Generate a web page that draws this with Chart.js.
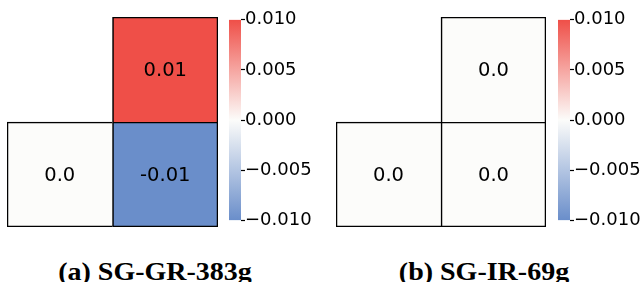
<!DOCTYPE html>
<html>
<head>
<meta charset="utf-8">
<script src="https://cdn.jsdelivr.net/npm/chart.js@4/dist/chart.umd.min.js"></script>
<style>
  body { margin: 0; background: #fff; }
  #wrap { position: relative; width: 642px; height: 282px; overflow: hidden; background: #fff; }
  #wrap div.box { position: absolute; }
  .cap { position: absolute; font-family: "Liberation Serif", serif; font-weight: bold; font-size: 25px;
         line-height: 25px; white-space: nowrap; transform: translateX(-50%) scaleX(1.12); }
</style>
</head>
<body>
<div id="wrap">
  <div class="box" style="left:7px;top:17px;width:211px;height:210px"><canvas id="heatA"></canvas></div>
  <div class="box" style="left:229px;top:9px;width:90px;height:222px"><canvas id="barA"></canvas></div>
  <div class="box" style="left:336px;top:17px;width:210px;height:210px"><canvas id="heatB"></canvas></div>
  <div class="box" style="left:558px;top:9px;width:84px;height:222px"><canvas id="barB"></canvas></div>
  <div class="cap" style="left:155px;top:259px">(a) SG-GR-383g</div>
  <div class="cap" style="left:484px;top:259px">(b) SG-IR-69g</div>
</div>
<script>
// cell values, top row then bottom row (left column, right column)
const colsLabels = ['c0', 'c1']
const topA = [null, 0.01]
const bottomA = [0.0, -0.01]
const topB = [null, 0.0]
const bottomB = [0.0, 0.0]

// colorbar range and ticks
const vmin = -0.01
const vmax = 0.01
const cbTicks = [-0.01, -0.005, 0, 0.005, 0.01]

const blue = [106, 142, 202]
const mid = [252, 252, 250]
const red = [239, 79, 72]

function cmap(v) {
    var t = (v - vmin) / (vmax - vmin)
    var a, b, f
    if (t < 0.5) { a = blue; b = mid; f = t / 0.5 } else { a = mid; b = red; f = (t - 0.5) / 0.5 }
    var c = a.map((x, i) => Math.round(x + (b[i] - x) * f))
    return 'rgb(' + c.join(',') + ')'
}

function fmt(v) {
    var s = String(Math.round(v * 100) / 100)
    return s.indexOf('.') < 0 ? s + '.0' : s
}

const cellLabels = {
    id: 'cellLabels',
    afterDatasetsDraw(chart) {
        var ctx = chart.ctx
        chart.data.datasets.forEach((ds, di) => {
            chart.getDatasetMeta(di).data.forEach((el, i) => {
                if (ds.values[i] === null) return
                var p = el.getCenterPoint()
                ctx.save()
                ctx.font = '19.5px "DejaVu Sans"'
                ctx.fillStyle = '#000'
                ctx.textAlign = 'center'
                ctx.textBaseline = 'middle'
                ctx.fillText(fmt(ds.values[i]), p.x, p.y + 1)
                ctx.restore()
            })
        })
    }
}

// borders: shared edges drawn once
const bw = 1.6
const topBorders = [{ left: bw, top: bw, right: 0, bottom: 0 }, { left: bw, top: bw, right: bw, bottom: 0 }]
const bottomBorders = [{ left: bw, top: bw, right: 0, bottom: bw }, { left: bw, top: bw, right: bw, bottom: bw }]

function heatmap(id, top, bottom) {
    var row = (vals, y0, borders) => ({
        values: vals,
        data: vals.map(v => v === null ? null : [y0, y0 + 1]),
        backgroundColor: vals.map(v => v === null ? 'rgba(0,0,0,0)' : cmap(v)),
        borderColor: '#000',
        borderWidth: borders,
        borderSkipped: false,
        grouped: false,
        barPercentage: 1,
        categoryPercentage: 1
    })
    return new Chart(document.getElementById(id), {
        type: 'bar',
        data: { labels: colsLabels, datasets: [row(top, 1, topBorders), row(bottom, 0, bottomBorders)] },
        options: {
            responsive: true,
            maintainAspectRatio: false,
            animation: false,
            layout: { padding: 0 },
            plugins: { legend: { display: false }, tooltip: { enabled: false } },
            scales: {
                x: { display: false },
                y: { display: false, min: 0, max: 2 }
            }
        },
        plugins: [cellLabels]
    })
}

function colorbar(id) {
    return new Chart(document.getElementById(id), {
        type: 'bar',
        data: {
            labels: ['cb'],
            datasets: [{
                data: [[vmin, vmax]],
                backgroundColor: (c) => {
                    var a = c.chart.chartArea
                    if (!a) return null
                    var g = c.chart.ctx.createLinearGradient(0, a.bottom, 0, a.top)
                    g.addColorStop(0, cmap(vmin))
                    g.addColorStop(0.5, cmap(0))
                    g.addColorStop(1, cmap(vmax))
                    return g
                },
                borderWidth: 0,
                barPercentage: 1,
                categoryPercentage: 1
            }]
        },
        options: {
            responsive: true,
            maintainAspectRatio: false,
            animation: false,
            layout: { padding: 0 },
            plugins: { legend: { display: false }, tooltip: { enabled: false } },
            scales: {
                x: { display: false },
                y: {
                    position: 'right',
                    min: vmin,
                    max: vmax,
                    afterBuildTicks: (s) => { s.ticks = cbTicks.map(v => ({ value: v })) },
                    afterFit: (s) => { s.width = s.chart.width - 12 },
                    border: { display: false },
                    grid: { drawOnChartArea: false, tickLength: 4, tickColor: '#000', tickWidth: 1.2 },
                    ticks: {
                        padding: 0,
                        color: '#000',
                        font: { family: 'DejaVu Sans', size: 18 },
                        callback: (v) => (v < 0 ? '\u2212' : '') + Math.abs(v).toFixed(3)
                    }
                }
            }
        }
    })
}

heatmap('heatA', topA, bottomA)
heatmap('heatB', topB, bottomB)
colorbar('barA')
colorbar('barB')
</script>
</body>
</html>
